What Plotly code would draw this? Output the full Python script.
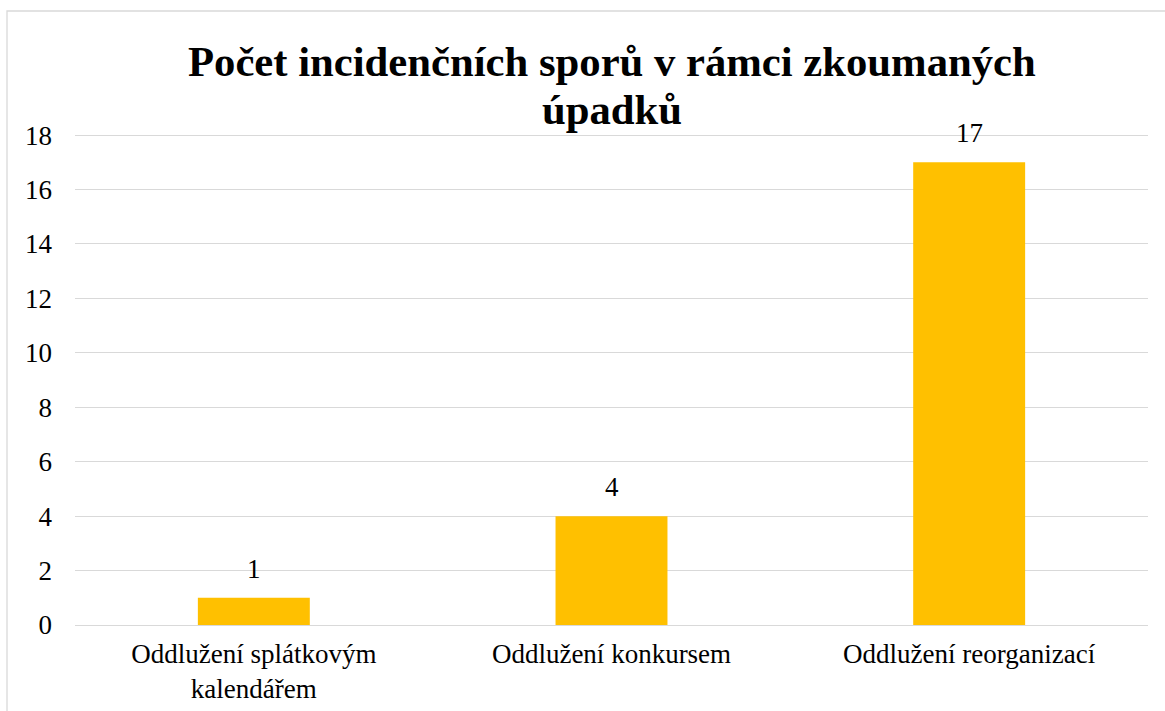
import plotly.graph_objects as go

categories = ["Oddlužení splátkovým<br>kalendářem", "Oddlužení konkursem", "Oddlužení reorganizací"]
values = [1, 4, 17]
tick_vals = [0, 2, 4, 6, 8, 10, 12, 14, 16, 18]
title_lines = ["Počet incidenčních sporů v rámci zkoumaných", "úpadků"]

FONT = "Liberation Serif, Times New Roman, serif"

L, R, T, B = 75, 1165 - 1148, 134, 711 - 625
W, H = 1165 - L - R, 711 - T - B

fig = go.Figure()
fig.add_trace(go.Bar(
    x=categories, y=values,
    marker=dict(color="#FFC000", line=dict(width=0)),
    hoverinfo="skip",
))

for c, v in zip(categories, values):
    fig.add_annotation(x=c, y=v, text=str(v), showarrow=False,
                       yanchor="bottom", yshift=12,
                       font=dict(family=FONT, size=27, color="#000000"))

title_y = [62, 110]
for line, py in zip(title_lines, title_y):
    fig.add_annotation(xref="paper", yref="paper", x=0.5, y=(625 - py) / H,
                       text=f"<b>{line}</b>", showarrow=False,
                       xanchor="center", yanchor="middle",
                       font=dict(family=FONT, size=42.7, color="#000000"))

fig.update_layout(
    width=1165, height=711,
    margin=dict(l=L, r=R, t=T, b=B, autoexpand=False),
    paper_bgcolor="white", plot_bgcolor="white",
    font=dict(family=FONT, size=27, color="#000000"),
    showlegend=False,
    bargap=0.687,
    xaxis=dict(showgrid=False, showline=False, ticks="", tickfont=dict(size=27),
               ticklabelstandoff=10),
    yaxis=dict(range=[0, 18.04], tickvals=tick_vals, showgrid=True, gridcolor="#D9D9D9",
               gridwidth=1.3, zeroline=True, zerolinecolor="#D9D9D9", zerolinewidth=1.3,
               showline=False, ticks="", tickfont=dict(size=27), ticklabelstandoff=22),
    shapes=[dict(type="rect", xref="paper", yref="paper",
                 x0=(7 - L) / W, x1=(1175 - L) / W,
                 y0=(625 - 720) / H, y1=(625 - 11) / H,
                 line=dict(color="#D9D9D9", width=1.3), fillcolor="rgba(0,0,0,0)", layer="below")],
)

fig.write_html("out.html", config={"displayModeBar": False},
               post_script="document.body.style.margin='0';document.body.style.overflow='hidden';")
